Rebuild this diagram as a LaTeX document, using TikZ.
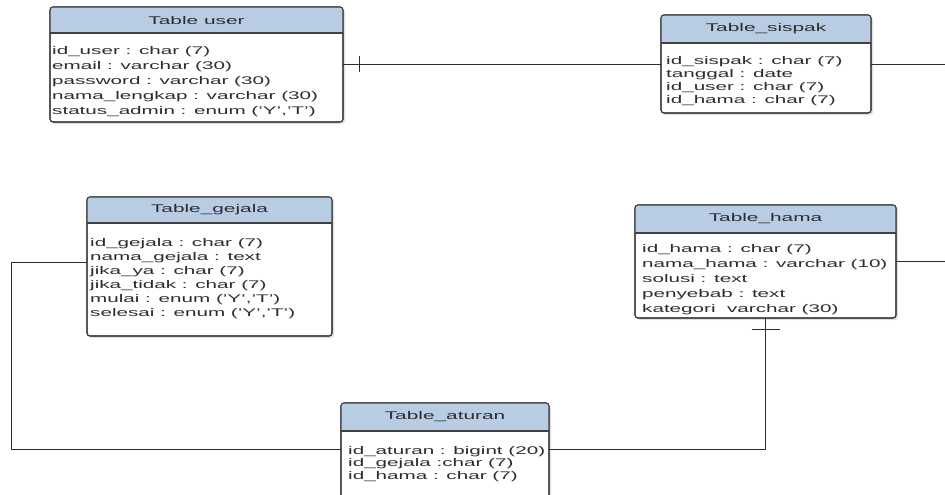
\documentclass[tikz,border=0pt]{standalone}
\usepackage{fontspec}
\setmainfont[FakeStretch=1.86]{Liberation Sans}
\usetikzlibrary{calc,shadows}

\definecolor{hdrblue}{RGB}{184,204,228}
\definecolor{edgegray}{RGB}{64,64,64}
\definecolor{ink}{RGB}{45,45,45}
\definecolor{wirecol}{RGB}{45,45,45}

\tikzset{
  tbox/.style={draw=edgegray, line width=1.1pt, fill=white, rounded corners=3pt,
    anchor=north west, inner sep=0pt, outer sep=0pt,
    drop shadow={shadow xshift=2pt, shadow yshift=-2pt, opacity=0.25}},
  ttitle/.style={font=\fontsize{11.2}{14}\selectfont, text=ink, inner sep=0pt},
  tbody/.style={font=\fontsize{11.1}{#1}\selectfont, text=ink, align=left,
    anchor=north west, inner sep=0pt},
  wire/.style={draw=wirecol, line width=0.95pt},
}

% blue header band of a table box, then the separator and outline on top
\newcommand\erheader[2]{%
  \begin{scope}
    \clip (#1.north west) rectangle ([yshift=-#2pt]#1.north east);
    \fill[hdrblue, rounded corners=3pt] (#1.north west) rectangle (#1.south east);
  \end{scope}
  \draw[edgegray, line width=1.1pt] ([yshift=-#2pt]#1.north west) -- ([yshift=-#2pt]#1.north east);
  \draw[edgegray, line width=1.1pt, rounded corners=3pt] (#1.north west) rectangle (#1.south east);
}

\begin{document}
\begin{tikzpicture}[x=1pt, y=-1pt]
  \useasboundingbox (0,0) rectangle (945,495);
  \fill[white] (0,0) rectangle (945,495);

  % table boxes
  \node[tbox, minimum width=293pt, minimum height=115pt] (user) at (50,7) {};
  \erheader{user}{26}
  \node[tbox, minimum width=210pt, minimum height=98pt] (sispak) at (661,15) {};
  \erheader{sispak}{28}
  \node[tbox, minimum width=245pt, minimum height=139pt] (gejala) at (87,197) {};
  \erheader{gejala}{26}
  \node[tbox, minimum width=261pt, minimum height=113pt] (hama) at (635,205) {};
  \erheader{hama}{28}
  \node[tbox, minimum width=208pt, minimum height=100pt] (aturan) at (341,403) {};
  \erheader{aturan}{28}

  % titles
  \node[ttitle] (usertitle) at (196.5,20) {Table user};
  \node[ttitle] (sispaktitle) at (766,29) {Table\_sispak};
  \node[ttitle] (gejalatitle) at (209.5,210) {Table\_gejala};
  \node[ttitle] (hamatitle) at (765.5,219) {Table\_hama};
  \node[ttitle] (aturantitle) at (445,417) {Table\_aturan};

  % attributes
  \node[tbody=15] (userbody) at (52,46) {id\_user : char (7)\\email : varchar (30)\\password : varchar (30)\\nama\_lengkap : varchar (30)\\status\_admin : enum ('Y','T')};
  \node[tbody=13] (sispakbody) at (666,56) {id\_sispak : char (7)\\tanggal : date\\id\_user : char (7)\\id\_hama : char (7)};
  \node[tbody=14] (gejalabody) at (90,238) {id\_gejala : char (7)\\nama\_gejala : text\\jika\_ya : char (7)\\jika\_tidak : char (7)\\mulai : enum ('Y','T')\\selesai : enum ('Y','T')};
  \node[tbody=15] (hamabody) at (642,244) {id\_hama : char (7)\\nama\_hama : varchar (10)\\solusi : text\\penyebab : text\\kategori\ \ varchar (30)};
  \node[tbody=12.5] (aturanbody) at (348,446) {id\_aturan : bigint (20)\\id\_gejala :char (7)\\id\_hama : char (7)};

  % connectors
  \coordinate (edgeR) at (945,0);
  \coordinate (loopL) at (11,262);
  \coordinate (loopB) at (11,449);

  \draw[wire] (user.east) -- (user.east -| sispak.west);
  \draw[wire] ([xshift=16pt,yshift=8pt]user.east) -- ([xshift=16pt,yshift=-8pt]user.east);
  \draw[wire] (sispak.east) -- (sispak.east -| edgeR);
  \draw[wire] (hama.east) -- (hama.east -| edgeR);
  \draw[wire] (gejala.west |- loopL) -- (loopL) -- (loopB) -- (loopB -| aturan.west);
  \draw[wire] (hama.south) |- (loopB -| aturan.east);
  \draw[wire] ([xshift=-14pt,yshift=-11pt]hama.south) -- ([xshift=14pt,yshift=-11pt]hama.south);
\end{tikzpicture}
\end{document}
